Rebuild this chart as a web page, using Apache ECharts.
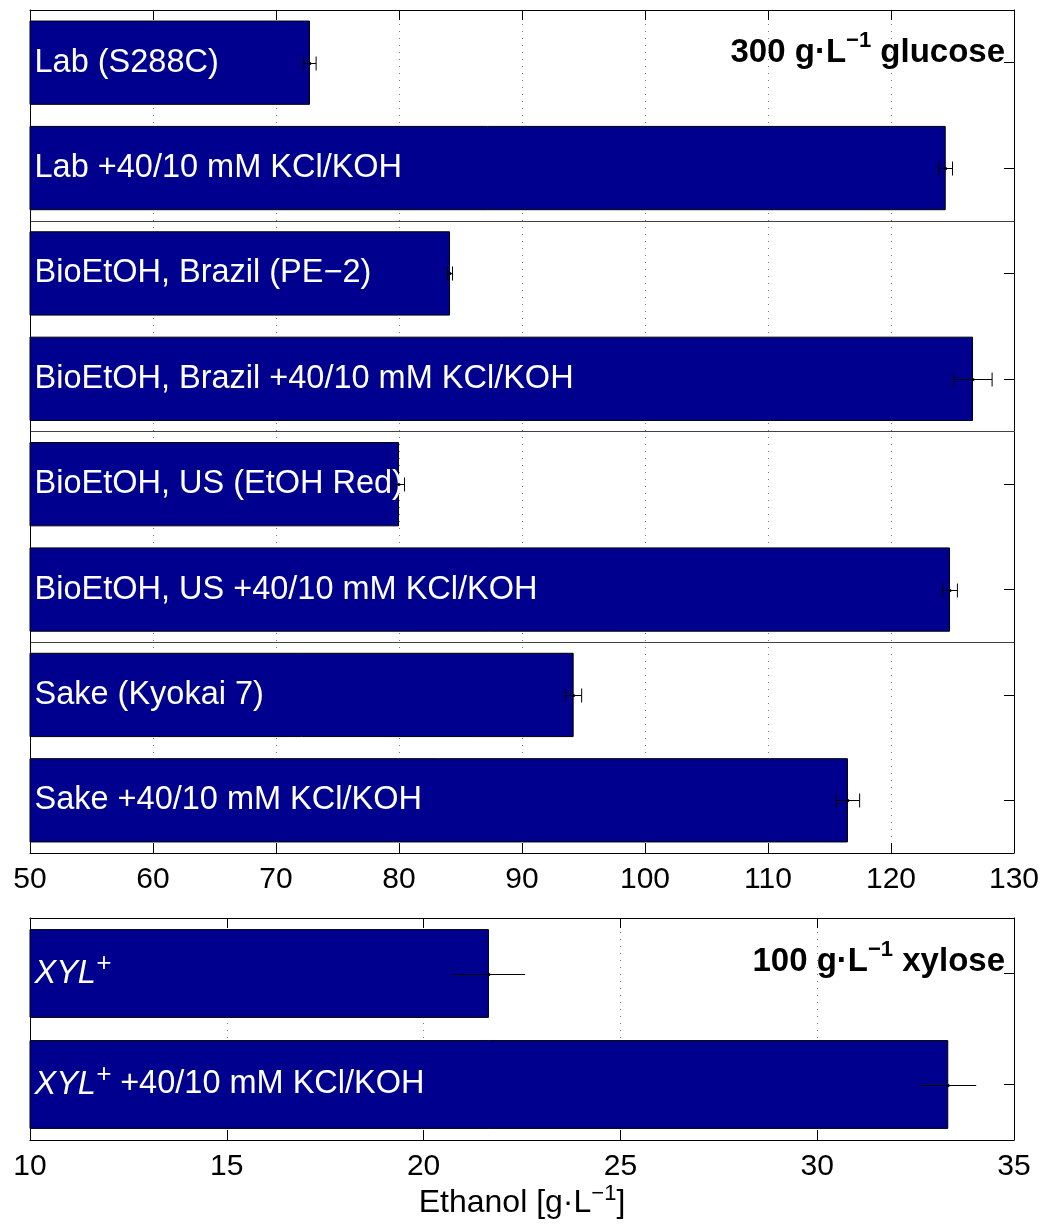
<!DOCTYPE html>
<html>
<head>
<meta charset="utf-8">
<script src="https://cdn.jsdelivr.net/npm/echarts@6/dist/echarts.min.js"></script>
<style>
  html, body { margin: 0; padding: 0; background: #fff; }
  #chart { width: 1047px; height: 1226px; }
</style>
</head>
<body>
<div id="chart"></div>
<script>
// Ethanol titres (g/L) with standard deviations, 300 g/L glucose fermentations
const glucoseStrains = [
  'Lab (S288C)',
  'Lab +40/10 mM KCl/KOH',
  'BioEtOH, Brazil (PE\u22122)',
  'BioEtOH, Brazil +40/10 mM KCl/KOH',
  'BioEtOH, US (EtOH Red)',
  'BioEtOH, US +40/10 mM KCl/KOH',
  'Sake (Kyokai 7)',
  'Sake +40/10 mM KCl/KOH'
];
const glucoseEthanol = [72.76, 124.45, 84.15, 126.67, 80.0, 124.8, 94.2, 116.5];
const glucoseSd = [0.5, 0.55, 0.2, 1.55, 0.45, 0.6, 0.65, 0.95];

// 100 g/L xylose fermentations
const xyloseStrains = ['XYL+', 'XYL+ +40/10 mM KCl/KOH'];
const xyloseEthanol = [21.66, 33.33];
const xyloseSd = [0.92, 0.71];

// Axis ranges and tick steps
const glucoseAxis = { min: 50, max: 130, step: 10 };
const xyloseAxis = { min: 10, max: 35, step: 5 };

const FONT = '"Liberation Sans", Arial, Helvetica, sans-serif';
const BAR_BLUE = '#00008f';

const chart = echarts.init(document.getElementById('chart'), null, { renderer: 'canvas' });

function valueAxis(gridIndex, range, bottom, extra) {
  const ax = {
    type: 'value',
    gridIndex: gridIndex,
    position: bottom ? 'bottom' : 'top',
    min: range.min,
    max: range.max,
    interval: range.step,
    axisLine: { show: true, onZero: false, lineStyle: { color: '#000', width: 1 } },
    axisTick: { show: true, inside: true, length: 10, lineStyle: { color: '#000', width: 1 } },
    axisLabel: bottom
      ? { show: true, color: '#000', fontSize: 30, fontFamily: FONT, margin: 12 }
      : { show: false },
    splitLine: bottom
      ? { show: true, showMinLine: false, showMaxLine: false,
          lineStyle: { color: '#7a7a7a', width: 1, type: [1, 6] } }
      : { show: false }
  };
  return Object.assign(ax, extra || {});
}

function categoryAxis(gridIndex, cats, right, separators) {
  return {
    type: 'category',
    gridIndex: gridIndex,
    position: right ? 'right' : 'left',
    data: cats,
    inverse: true,
    axisLine: { show: true, onZero: false, lineStyle: { color: '#000', width: 1 } },
    axisTick: right
      ? { show: true, inside: true, alignWithLabel: true, length: 10, lineStyle: { color: '#000' } }
      : { show: false },
    axisLabel: { show: false },
    splitLine: separators
      ? { show: true, interval: function (i) { return separators.indexOf(i) >= 0; },
          lineStyle: { color: '#444', width: 1 } }
      : { show: false }
  };
}

function barLabel(name) {
  if (name.indexOf('XYL+') === 0) {
    return '{it|XYL}{sup|+}' + name.slice(4);
  }
  return name;
}

const labelStyle = {
  show: true,
  position: 'insideLeft',
  distance: 5,
  color: '#fff',
  fontSize: 32.5,
  fontFamily: FONT,
  lineHeight: 46,
  formatter: function (p) { return barLabel(p.name); },
  rich: {
    it: { fontStyle: 'italic', fontSize: 32.5, fontFamily: FONT, color: '#fff', lineHeight: 46 },
    sup: { fontStyle: 'italic', fontSize: 26, fontFamily: FONT, color: '#fff', lineHeight: 26, verticalAlign: 'top' }
  }
};

function errorBarSeries(xIdx, yIdx, values, sds, capHalf) {
  const data = values.map(function (v, i) { return [i, v, sds[i]]; });
  return {
    type: 'custom',
    xAxisIndex: xIdx,
    yAxisIndex: yIdx,
    z: 5,
    silent: true,
    encode: { x: 1, y: 0 },
    data: data,
    renderItem: function (params, api) {
      const idx = api.value(0), v = api.value(1), sd = api.value(2);
      const lo = api.coord([v - sd, idx]);
      const hi = api.coord([v + sd, idx]);
      const mid = api.coord([v, idx]);
      const y = Math.round(mid[1]) + 0.5;
      const style = { stroke: '#000', lineWidth: 1 };
      const children = [
        { type: 'line', shape: { x1: lo[0], y1: y, x2: hi[0], y2: y }, style: style },
        { type: 'circle', shape: { cx: mid[0], cy: y, r: 1.5 }, style: { fill: '#000' } }
      ];
      if (capHalf > 0) {
        children.push({ type: 'line', shape: { x1: lo[0], y1: y - capHalf, x2: lo[0], y2: y + capHalf }, style: style });
        children.push({ type: 'line', shape: { x1: hi[0], y1: y - capHalf, x2: hi[0], y2: y + capHalf }, style: style });
      }
      return { type: 'group', children: children };
    }
  };
}

function panelTitle(text, top) {
  return {
    type: 'text', right: 42, top: top, z: 10,
    style: {
      text: text,
      font: 'bold 33px ' + FONT,
      fill: '#000',
      lineHeight: 46,
      rich: { sup: { fontSize: 22, fontWeight: 'bold', fontFamily: FONT, fill: '#000', lineHeight: 22, verticalAlign: 'top' } }
    }
  };
}

const option = {
  animation: false,
  backgroundColor: '#fff',
  textStyle: { fontFamily: FONT },
  grid: [
    { left: 30, top: 10, width: 984, height: 843, containLabel: false },
    { left: 30, top: 918, width: 984, height: 222, containLabel: false }
  ],
  xAxis: [
    valueAxis(0, glucoseAxis, true),
    valueAxis(0, glucoseAxis, false),
    valueAxis(1, xyloseAxis, true, {
      name: 'Ethanol [g\u00b7L{sup|\u22121}]',
      nameLocation: 'middle',
      nameGap: 43,
      nameTextStyle: {
        color: '#000', fontSize: 32, fontFamily: FONT, lineHeight: 40,
        rich: { sup: { fontSize: 22, fontFamily: FONT, color: '#000', lineHeight: 22, verticalAlign: 'top' } }
      }
    }),
    valueAxis(1, xyloseAxis, false)
  ],
  yAxis: [
    categoryAxis(0, glucoseStrains, false, [2, 4, 6]),
    categoryAxis(0, glucoseStrains, true, null),
    categoryAxis(1, xyloseStrains, false, null),
    categoryAxis(1, xyloseStrains, true, null)
  ],
  graphic: [
    panelTitle('300 g\u00b7L{sup|\u22121} glucose', 30),
    panelTitle('100 g\u00b7L{sup|\u22121} xylose', 939)
  ],
  series: [
    {
      type: 'bar',
      xAxisIndex: 0,
      yAxisIndex: 0,
      data: glucoseEthanol,
      barCategoryGap: '20%',
      itemStyle: { color: BAR_BLUE, borderColor: '#000', borderWidth: 1 },
      label: labelStyle
    },
    errorBarSeries(0, 0, glucoseEthanol, glucoseSd, 7),
    {
      type: 'bar',
      xAxisIndex: 2,
      yAxisIndex: 2,
      data: xyloseEthanol,
      barCategoryGap: '20%',
      itemStyle: { color: BAR_BLUE, borderColor: '#000', borderWidth: 1 },
      label: labelStyle
    },
    errorBarSeries(2, 2, xyloseEthanol, xyloseSd, 0)
  ]
};

chart.setOption(option);
</script>
</body>
</html>
